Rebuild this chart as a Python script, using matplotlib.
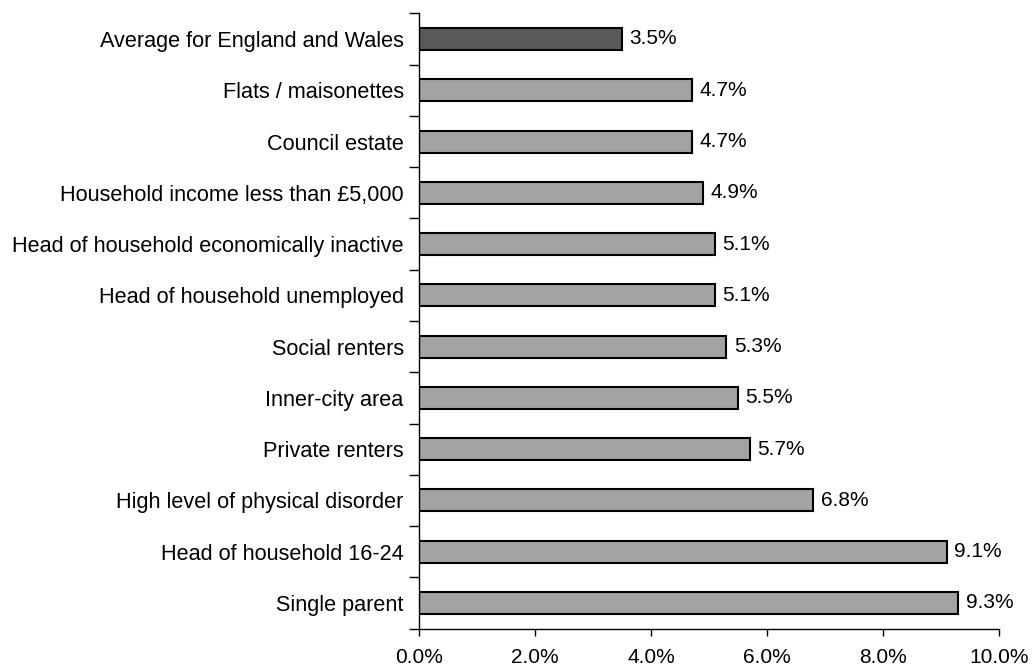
import matplotlib.pyplot as plt
from matplotlib.ticker import FuncFormatter

categories = [
    "Single parent",
    "Head of household 16-24",
    "High level of physical disorder",
    "Private renters",
    "Inner-city area",
    "Social renters",
    "Head of household unemployed",
    "Head of household economically inactive",
    "Household income less than £5,000",
    "Council estate",
    "Flats / maisonettes",
    "Average for England and Wales",
]
values = [9.3, 9.1, 6.8, 5.7, 5.5, 5.3, 5.1, 5.1, 4.9, 4.7, 4.7, 3.5]

plt.rcParams['font.family'] = ['Liberation Sans', 'DejaVu Sans']

fig = plt.figure(figsize=(10.32, 6.68), dpi=100)
ax = fig.add_axes([0.406, 0.059, 0.562, 0.921])

colors = ["#a3a3a3"] * (len(values) - 1) + ["#595959"]
y = range(len(categories))
ax.barh(y, values, height=0.43, color=colors, edgecolor="black", linewidth=1.5)

for i, v in enumerate(values):
    ax.text(v + 0.13, i, f"{v:.1f}%", va="center", ha="left", fontsize=15)

ax.set_xlim(0, 10)
ax.set_ylim(-0.5, len(categories) - 0.5)
ax.set_xticks([0, 2, 4, 6, 8, 10])
ax.xaxis.set_major_formatter(FuncFormatter(lambda x, p: f"{x:.1f}%"))

# category labels between tick marks at the row boundaries
ax.set_yticks([i - 0.5 for i in range(len(categories) + 1)])
ax.set_yticklabels([])
ax.set_yticks(list(y), minor=True)
ax.set_yticklabels(categories, minor=True)
ax.tick_params(axis="y", which="minor", length=0, pad=11, labelsize=15.6)
ax.tick_params(axis="y", which="major", length=7, width=1)
ax.tick_params(axis="x", length=5, width=1, pad=9, labelsize=15)

for s in ["top", "right"]:
    ax.spines[s].set_visible(False)
ax.spines["left"].set_linewidth(1)
ax.spines["bottom"].set_linewidth(1)

fig.savefig("out.png", dpi=100)
